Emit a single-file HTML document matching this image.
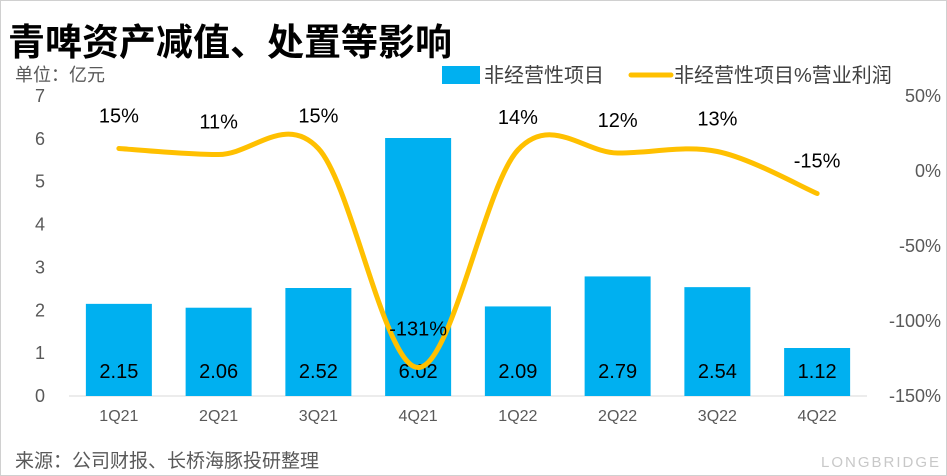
<!DOCTYPE html>
<html><head><meta charset="utf-8"><style>
body{margin:0;background:#fff;}
#wrap{position:relative;width:945px;height:474px;border:1px solid #d0d0d0;overflow:hidden;font-family:"Liberation Sans","Noto Sans CJK SC",sans-serif;}
</style></head><body>
<div id="wrap">
<svg id="c" width="945" height="474" xmlns="http://www.w3.org/2000/svg"></svg>
</div>
<script>
const categories=["1Q21","2Q21","3Q21","4Q21","1Q22","2Q22","3Q22","4Q22"];
const barValues=[2.15,2.06,2.52,6.02,2.09,2.79,2.54,1.12];
const pctValues=[15,11,15,-131,14,12,13,-15];
const leftTicks=[0,1,2,3,4,5,6,7];
const rightTicks=[50,0,-50,-100,-150];
const svg=document.getElementById('c');
const NS="http://www.w3.org/2000/svg";
const F='"Liberation Sans","Noto Sans CJK SC",sans-serif';
const x0=68,x1=866,yTop=95,yBot=395;
const step=(x1-x0)/categories.length;
const xC=i=>x0+step*(i+0.5);
const yL=v=>yBot-(v/7)*(yBot-yTop);
const yR=v=>yBot-((v+150)/200)*(yBot-yTop);
function el(t,a,txt){const e=document.createElementNS(NS,t);for(const k in a)e.setAttribute(k,a[k]);if(txt!==undefined)e.textContent=txt;svg.appendChild(e);return e;}
let e;
e=el('text',{x:7,y:54,'font-size':37,'font-weight':'bold','font-family':F,fill:'#000'},'青啤资产减值、处置等影响');

e=el('text',{x:14,y:80,'font-size':18,'font-family':F,fill:'#595959'},'单位：亿元');

e=el('rect',{x:441,y:65,width:38,height:18,fill:'#00b0f0'});

e=el('text',{x:483,y:81,'font-size':20,'font-family':F,fill:'#404040'},'非经营性项目');

e=el('line',{x1:630,y1:74,x2:670,y2:74,stroke:'#ffc000','stroke-width':5,'stroke-linecap':'round'});

e=el('text',{x:673,y:81,'font-size':20,'font-family':F,fill:'#404040'},'非经营性项目%营业利润');

e=el('line',{x1:x0,y1:yBot,x2:x1,y2:yBot,stroke:'#d9d9d9','stroke-width':1});

leftTicks.forEach(v=>{const t=el('text',{x:44,y:yL(v)+6,'text-anchor':'end','font-size':18,'font-family':F,fill:'#595959'},String(v));
});
rightTicks.forEach(v=>{const t=el('text',{x:940,y:yR(v)+6,'text-anchor':'end','font-size':18,'font-family':F,fill:'#595959'},v+'%');
});
barValues.forEach((v,i)=>{const bw=66;
const r=el('rect',{x:xC(i)-bw/2,y:yL(v),width:bw,height:yBot-yL(v),fill:'#00b0f0'});

const t=el('text',{x:xC(i),y:377,'text-anchor':'middle','font-size':20,'font-family':F,fill:'#000'},v.toFixed(2));

const c=el('text',{x:xC(i),y:420,'text-anchor':'middle','font-size':16,'font-family':F,fill:'#595959'},categories[i]);
});
const pts=pctValues.map((v,i)=>[xC(i),yR(v)]);
let d='M'+pts[0][0]+','+pts[0][1];
const tension=0.5;
for(let i=0;i<pts.length-1;i++){const p0=pts[i-1]||pts[i],p1=pts[i],p2=pts[i+1],p3=pts[i+2]||p2;
const c1=[p1[0]+(p2[0]-p0[0])*tension/3,p1[1]+(p2[1]-p0[1])*tension/3];
const c2=[p2[0]-(p3[0]-p1[0])*tension/3,p2[1]-(p3[1]-p1[1])*tension/3];
d+=' C'+c1+' '+c2+' '+p2;}
e=el('path',{d:d,fill:'none',stroke:'#ffc000','stroke-width':5,'stroke-linecap':'round'});

pctValues.forEach((v,i)=>{const y=v<-100?yR(v)-32:yR(v)-26;
const t=el('text',{x:xC(i),y:y,'text-anchor':'middle','font-size':20,'font-family':F,fill:'#000'},v+'%');
});
e=el('text',{x:14,y:466,'font-size':19,'font-family':F,fill:'#595959'},'来源：公司财报、长桥海豚投研整理');

e=el('text',{x:820,y:466,'font-size':15,'font-family':F,fill:'#c8c8c8','letter-spacing':2},'LONGBRIDGE');

</script>
</body></html>
